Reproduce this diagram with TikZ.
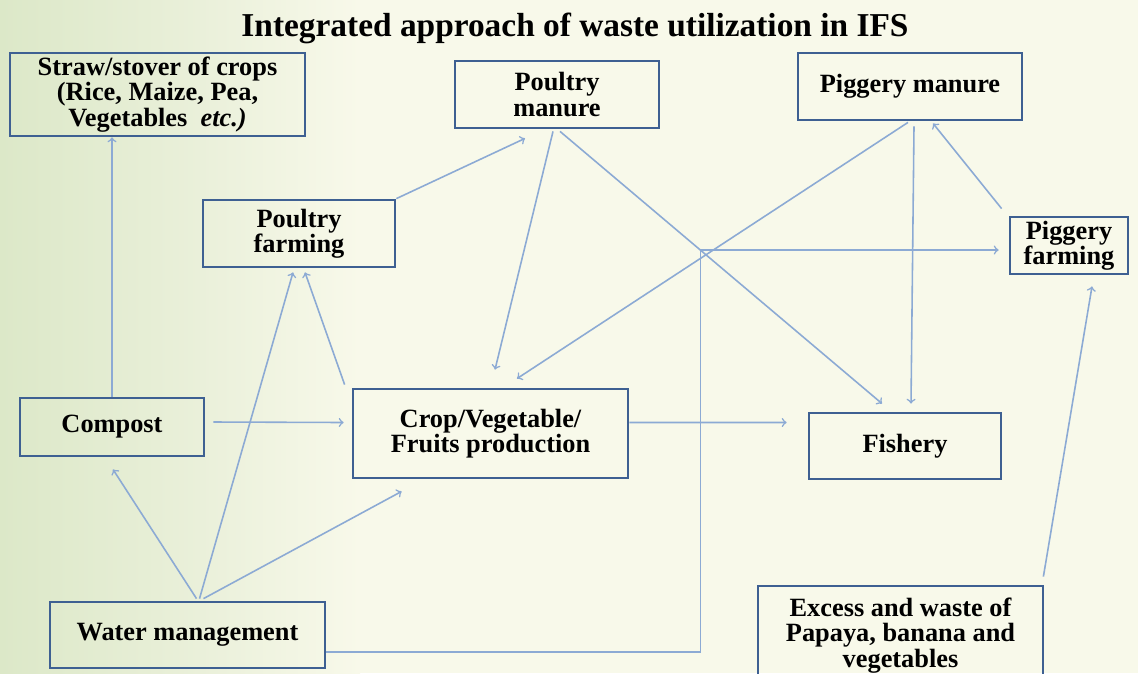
\documentclass[tikz,border=0pt]{standalone}
\usepackage{fontspec}
\setmainfont{Liberation Serif}
\usepackage{tikz}
\usetikzlibrary{arrows,positioning}
\definecolor{boxblue}{RGB}{62,96,146}
\definecolor{linkblue}{RGB}{140,170,212}
\definecolor{bgcream}{RGB}{248,249,234}
\definecolor{bggreen}{RGB}{220,232,200}
\definecolor{bgpale}{RGB}{234,240,218}
\tikzset{>=to}
\tikzset{box/.style={rectangle,draw=boxblue,line width=1.6pt,align=center,inner sep=0mm,font=\fontsize{15}{14.5}\selectfont\bfseries}}
\tikzset{link/.style={draw=linkblue,line width=0.9pt,->}}
\tikzset{heading/.style={font=\fontsize{19}{22}\selectfont\bfseries}}

\begin{document}
\begin{tikzpicture}[x=0.02cm,y=-0.02cm]
    \useasboundingbox (0,0) rectangle (1138,673);
    \clip (0,0) rectangle (1138,673);
    % background
    \fill[bgcream] (0,0) rectangle (1138,673);
    \shade[left color=bggreen,right color=bgpale] (0,0) rectangle (200,673);
    \shade[left color=bgpale,right color=bgcream] (200,0) rectangle (360,673);

    \node[heading] (head) at (575,28) {Integrated approach of waste utilization in IFS};

    \node[box,minimum width=5.9cm,minimum height=1.66cm]  (straw)   at (157.5,94.5) {Straw/stover of crops\\(Rice, Maize, Pea,\\Vegetables\ \ \textit{etc.)}};
    \node[box,minimum width=4.08cm,minimum height=1.34cm] (pm)      at (557,94.5)   {Poultry\\manure};
    \node[box,minimum width=4.48cm,minimum height=1.34cm] (pigm)    at (910,86.5)   {Piggery manure};
    \node[box,minimum width=3.84cm,minimum height=1.34cm] (pf)      at (299,233.5)  {Poultry\\farming};
    \node[box,minimum width=2.36cm,minimum height=1.14cm] (pigf)    at (1069,245.5) {Piggery\\farming};
    \node[box,minimum width=3.68cm,minimum height=1.16cm] (compost) at (112,427)    {Compost};
    \node[box,minimum width=5.5cm,minimum height=1.78cm]  (crop)    at (490.5,433.5) {Crop/Vegetable/\\Fruits production};
    \node[box,minimum width=3.84cm,minimum height=1.32cm] (fish)    at (905,446)    {Fishery};
    \node[box,minimum width=5.5cm,minimum height=1.32cm]  (water)   at (187.5,635)  {Water management};
    \node[box,minimum width=5.7cm,minimum height=1.98cm]  (waste)   at (900.5,635.5) {Excess and waste of\\Papaya, banana and\\vegetables};

    \draw[link] (compost.north) -- (compost.north |- straw.south);
    \draw[link] ([shift={(8,-5)}]compost.east) -- ([shift={(-8,-11)}]crop.west);
    \draw[link] ([shift={(9,-2)}]water.north) -- ([shift={(1,12)}]compost.south);
    \draw[link] ([shift={(12,-2)}]water.north) -- ([shift={(-6,4)}]pf.south);
    \draw[link] ([shift={(16,-2)}]water.north) -- ([shift={(50,12)}]crop.south west);
    \draw[link] ([shift={(-7,-3)}]crop.north west) -- ([shift={(6,4)}]pf.south);
    \draw[link] (pf.north east) -- ([shift={(-32,9)}]pm.south);
    \draw[link] ([shift={(-4,2)}]pm.south) -- ([shift={(4.5,-18)}]crop.north);
    \draw[link] ([shift={(3,2)}]pm.south) -- ([shift={(-23,-8)}]fish.north);
    \draw[link] ([shift={(-2,1)}]pigm.south) -- ([shift={(26.5,-9)}]crop.north);
    \draw[link] ([shift={(4,5)}]pigm.south) -- ([shift={(6,-8)}]fish.north);
    \draw[link] ([shift={(-7,-7)}]pigf.north west) -- ([shift={(23,2)}]pigm.south);
    \draw[link] ([shift={(-1,-8)}]waste.north east) -- ([shift={(23,11)}]pigf.south);
    \draw[link] ([shift={(0,-11)}]crop.east) -- ([shift={(-21,-23.5)}]fish.west);
    \draw[link] ([shift={(0,17)}]water.east) -| ([shift={(-308,4.5)}]pigf.west) -- ([shift={(-10,4.5)}]pigf.west);
\end{tikzpicture}
\end{document}
